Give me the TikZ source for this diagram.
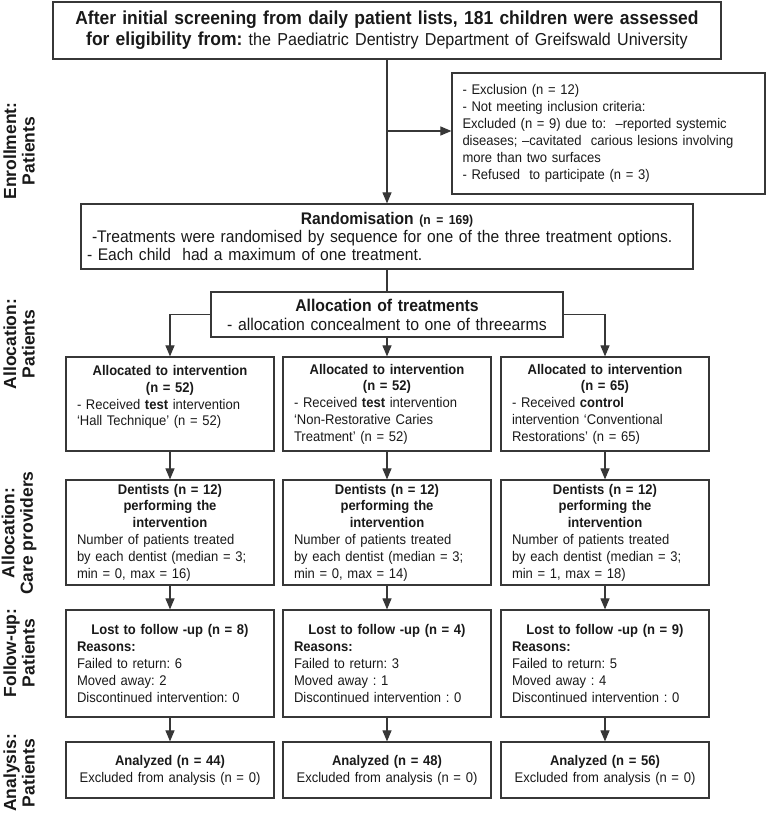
\documentclass[tikz,border=0pt]{standalone}
\usepackage{fontspec}
\setmainfont{Liberation Sans}[FakeStretch=0.93]
\newfontfamily\sidefont{Liberation Sans}
\usetikzlibrary{arrows.meta,positioning}
\definecolor{frame}{RGB}{55,55,55}
\definecolor{ink}{RGB}{25,25,25}
\newcommand{\boxfont}{\fontsize{14}{16.8}\selectfont}
\frenchspacing

\begin{document}
\begin{tikzpicture}[x=1pt,y=-1pt,>={Triangle[length=11pt,width=9pt]},
  color=frame,line width=1.1pt,
  box/.style={draw=frame,line width=1.2pt,text=ink,inner xsep=13pt,inner ysep=0pt},
  arm/.style={box,minimum width=208pt,inner xsep=11pt,text width=186pt,font=\boxfont},
  side/.style={text=ink,rotate=90,align=center,
    font=\sidefont\bfseries\fontsize{17.5}{18.5}\selectfont}]
\useasboundingbox (0,0) rectangle (766,813);
% enrollment
\node[box,minimum width=668pt,minimum height=57pt,text width=660pt,inner xsep=4pt,
  align=center,font=\bfseries\fontsize{18.8}{21}\selectfont] (screen) at (387,30.5)
  {After initial screening from daily patient lists, 181 children were assessed\\
   for eligibility from: \mdseries\fontsize{17.3}{21}\selectfont the Paediatric Dentistry Department of Greifswald University};
\node[box,minimum width=313pt,minimum height=121pt,text width=292pt,inner xsep=10pt,
  align=left,font=\fontsize{14}{17}\selectfont] (excl) at (608.5,133.5)
  {- Exclusion (n = 12)\\- Not meeting inclusion criteria:\\
   Excluded (n = 9) due to:\ \ –reported systemic\\
   diseases; –cavitated\ \ carious lesions involving\\more than two surfaces\\
   - Refused\ \ to participate (n = 3)};
\node[box,minimum width=612pt,minimum height=65pt,text width=600pt,inner xsep=6pt,
  font=\fontsize{16.8}{18}\selectfont] (rand) at (387,236.5)
  {\centering\textbf{Randomisation} \textbf{\fontsize{13}{15}\selectfont (n = 169)}\par
   \raggedright\leftskip=5pt -Treatments were randomised by sequence for one of the three treatment options.\\
   - Each child\ \ had a maximum of one treatment.};
\coordinate (split) at (387,131);
\draw[->] (screen) -- (rand);
\draw[->] (split) -- (split -| excl.west);
% allocation: patients
\node[box,minimum width=352pt,minimum height=45pt,text width=344pt,inner xsep=4pt,
  align=center,font=\fontsize{17}{19}\selectfont] (alloc) at (387,314.5)
  {\textbf{Allocation of treatments}\\- allocation concealment to one of threearms};
\draw (rand) -- (alloc);
\node[arm,minimum height=94pt] (allocA) at (170,404)
  {\centering\textbf{Allocated to intervention}\\\textbf{(n = 52)}\par
   \raggedright - Received \textbf{test} intervention\\‘Hall Technique’ (n = 52)\\\mbox{}};
\node[arm,minimum height=94pt] (allocB) at (387,404)
  {\centering\textbf{Allocated to intervention}\\\textbf{(n = 52)}\par
   \raggedright - Received \textbf{test} intervention\\‘Non-Restorative Caries\\Treatment’ (n = 52)};
\node[arm,minimum height=94pt] (allocC) at (605,404)
  {\centering\textbf{Allocated to intervention}\\\textbf{(n = 65)}\par
   \raggedright - Received \textbf{control}\\intervention ‘Conventional\\Restorations’ (n = 65)};
\draw[->] (alloc.west) -| (allocA);
\draw[->] (alloc) -- (allocB);
\draw[->] (alloc.east) -| (allocC);
% care providers
\node[arm,minimum height=105pt] (dentA) at (170,532.5)
  {\centering\textbf{Dentists (n = 12)}\\\textbf{performing the}\\\textbf{intervention}\par
   \raggedright Number of patients treated\\by each dentist (median = 3;\\min = 0, max = 16)};
\node[arm,minimum height=105pt] (dentB) at (387,532.5)
  {\centering\textbf{Dentists (n = 12)}\\\textbf{performing the}\\\textbf{intervention}\par
   \raggedright Number of patients treated\\by each dentist (median = 3;\\min = 0, max = 14)};
\node[arm,minimum height=105pt] (dentC) at (605,532.5)
  {\centering\textbf{Dentists (n = 12)}\\\textbf{performing the}\\\textbf{intervention}\par
   \raggedright Number of patients treated\\by each dentist (median = 3;\\min = 1, max = 18)};
% follow-up
\node[arm,minimum height=107pt] (lossA) at (170,663.5)
  {\centering\textbf{Lost to follow -up (n = 8)}\par
   \raggedright\textbf{Reasons:}\\Failed to return: 6\\Moved away: 2\\Discontinued intervention: 0};
\node[arm,minimum height=107pt] (lossB) at (387,663.5)
  {\centering\textbf{Lost to follow -up (n = 4)}\par
   \raggedright\textbf{Reasons:}\\Failed to return: 3\\Moved away : 1\\Discontinued intervention : 0};
\node[arm,minimum height=107pt] (lossC) at (605,663.5)
  {\centering\textbf{Lost to follow -up (n = 9)}\par
   \raggedright\textbf{Reasons:}\\Failed to return: 5\\Moved away : 4\\Discontinued intervention : 0};
% analysis
\node[arm,minimum height=56pt,align=center] (anaA) at (170,770)
  {\textbf{Analyzed (n = 44)}\\Excluded from analysis (n = 0)};
\node[arm,minimum height=56pt,align=center] (anaB) at (387,770)
  {\textbf{Analyzed (n = 48)}\\Excluded from analysis (n = 0)};
\node[arm,minimum height=56pt,align=center] (anaC) at (605,770)
  {\textbf{Analyzed (n = 56)}\\Excluded from analysis (n = 0)};
\foreach \k in {A,B,C} {
  \draw[->] (alloc\k) -- (dent\k);
  \draw[->] (dent\k) -- (loss\k);
  \draw[->] (loss\k) -- (ana\k);
}
% stage labels
\node[side] (enrol) at (19,151) {Enrollment:\\Patients};
\node[side] (allocP) at (19,344) {Allocation:\\Patients};
\node[side] (allocCP) at (19,533) {Allocation:\\Care providers};
\node[side] (follow) at (19,653) {Follow-up:\\Patients};
\node[side] (anal) at (19,773) {Analysis:\\Patients};
\end{tikzpicture}
\end{document}
